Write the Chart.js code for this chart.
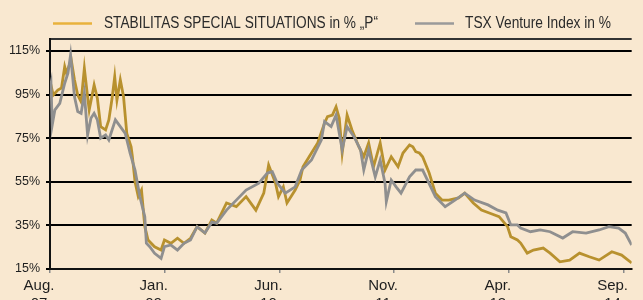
<!DOCTYPE html>
<html>
<head>
<meta charset="utf-8">
<script src="https://cdn.jsdelivr.net/npm/chart.js@4/dist/chart.umd.min.js"></script>
<style>
  body { margin: 0; background: #F9E8D0; }
  #wrap { width: 643px; height: 300px; position: relative; }
</style>
</head>
<body>
<div id="wrap"><canvas id="fundChart"></canvas></div>
<script>
// months since Aug. 2007, values in %
const stabMonths = [0,0.25,0.48,1.16,1.7,2.18,2.43,3.15,3.63,4.11,
  4.61,5.09,5.57,5.81,6.54,7.02,7.51,8.24,8.72,9.2,
  9.59,9.92,10.42,10.9,11.38,12.02,12.21,12.6,13.08,13.56,
  14.05,14.53,15.5,16.46,16.96,17.92,18.89,19.86,20.82,21.8,
  22.96,23.98,24.7,26.16,27.61,29.06,30.51,31.68,32.4,33.42,
  33.86,34.58,35.12,36.33,37.05,37.49,38.75,39.67,40.69,41.12,
  41.85,42.39,42.87,43.3,44.03,44.75,45.77,46.5,47.22,47.95,
  48.93,49.65,50.57,51.58,52.31,53.28,53.77,54.2,54.74,55.22,
  56.19,57.11,58.12,59.1,60.55,61.46,62.73,63.94,65.1,66.55,
  67.81,68.29,69.27,69.75,70.72,71.64,73.09,74.11,75.56,77.01,
  78.47,79.92,81.37,83.26,84.71,86.2];
const stabValues = [96,97.9,94.8,97.1,98,107.8,104.9,110.9,101.7,94.8,
  91.7,107,94,88,99.4,93.3,80.3,78.8,83.4,93.3,
  103.2,92.5,101.7,94,77.2,71.1,66.5,55,48.2,51.2,
  34.4,28.3,25.2,23.7,28.3,26.8,29.1,26.8,29.1,34.4,
  31.5,37.5,36,45.3,43.6,48.2,42,49.8,62.7,54.4,
  48.2,52.7,45.3,51.2,55.8,61.9,68.2,72.8,82,84.9,
  85.6,89.4,84.1,68.2,85.6,78.8,71.1,66.5,72.8,61.9,
  72.8,60.4,66.5,61.9,68.2,71.9,71.1,68.8,68.2,66.5,
  59,49.8,46.6,46.6,47.6,49.8,45.3,42,40.7,39,
  34.4,29.8,28.3,26.9,22.3,23.7,24.6,22.3,18.3,19.1,
  22.3,20.6,19.1,22.9,21.4,17.8];

const tsxMonths = [0,0.15,0.33,0.73,1.45,2.18,2.66,3.05,3.63,4.11,
  4.61,5.09,5.57,6.06,6.54,7.02,7.51,8.24,8.72,9.69,
  10.42,11.15,11.87,12.6,13.32,14.05,14.28,14.78,15.5,16.46,
  16.96,17.92,18.89,19.86,20.82,21.8,22.96,23.98,24.7,26.16,
  27.61,29.06,30.95,32.21,32.94,33.67,34.87,36.33,37.3,38.75,
  40.21,40.69,41.66,42.39,43.3,44.03,45.05,46.02,46.5,47.22,
  48.2,48.93,49.65,49.84,50.57,51.29,52.02,53.28,54.2,55.22,
  55.94,57.11,58.56,60.01,61.46,62.92,64.91,66.36,67.57,68.29,
  69.27,69.75,71.2,72.65,74.11,75.99,77.45,79.44,81.37,82.82,
  84.27,85.25,86.2];
const tsxValues = [98,100.2,81,88,91,100.2,104.8,113.2,94,87.2,
  86.4,95.6,76.5,84.1,86.4,83.4,75,76.5,74.2,83.4,
  80.3,77.2,68.1,60.4,48.2,39,26.8,25.2,22.2,19.9,
  25.2,26,23.7,26.8,28.3,34.4,31.5,36.5,36,42,
  46.6,51.2,54.4,59,59.6,54.4,49.8,52.7,60.4,65,
  74.2,82.6,80.3,85.6,69.6,80.3,75.7,69.6,60.4,69.6,
  57.3,65,54.4,45.9,55.8,52.7,49.8,57.3,60.4,60.4,
  55.8,48.2,43.6,46.6,49.8,46.6,44.4,42,40.7,35.2,
  35.2,33.8,32.1,32.9,32.1,29.2,32.1,31.5,32.9,34.4,
  33.8,31.5,26];

const xTickMonths = [0, 17, 34, 51, 68, 85];
const xTickLabels = [['Aug.', '07'], ['Jan.', '09'], ['Jun.', '10'], ['Nov.', '11'], ['Apr.', '13'], ['Sep.', '14']];
const yTicks = [15, 35, 55, 75, 95, 115];
const yTop = 120.5;

const seriesNames = ['STABILITAS SPECIAL SITUATIONS in % \u201EP\u201C', 'TSX Venture Index in %'];

function toPoints(xs, ys) {
    return xs.map((x, i) => ({ x: x, y: ys[i] }));
}

// condensed text: squeeze a normal font to the width the original uses
function narrowText(ctx, text, x, y, width) {
    const w = ctx.measureText(text).width;
    ctx.save();
    ctx.translate(x, y);
    ctx.scale(Math.min(1, width / w), 1);
    ctx.fillText(text, 0, 0);
    ctx.restore();
}

// legend drawn by hand so it sits where the original has it
const topLegend = {
    id: 'topLegend',
    afterDraw(chart) {
        const ctx = chart.ctx;
        ctx.save();
        ctx.lineWidth = 2.5;
        ctx.strokeStyle = '#E8B23C';
        ctx.beginPath(); ctx.moveTo(53, 23.5); ctx.lineTo(92, 23.5); ctx.stroke();
        ctx.strokeStyle = '#9A9A9A';
        ctx.beginPath(); ctx.moveTo(415, 23.5); ctx.lineTo(454, 23.5); ctx.stroke();
        ctx.fillStyle = '#2B2B2B';
        ctx.font = '16px "Liberation Sans", Arial, sans-serif';
        ctx.textBaseline = 'middle';
        narrowText(ctx, seriesNames[0], 104, 24, 274);
        narrowText(ctx, seriesNames[1], 465, 24, 146);
        ctx.restore();
    }
};

const ctx = document.getElementById('fundChart').getContext('2d');
const fundChart = new Chart(ctx, {
    type: 'line',
    data: {
        datasets: [{
            label: seriesNames[1],
            data: toPoints(tsxMonths, tsxValues),
            borderColor: '#8F8F8F',
            borderWidth: 2.8,
            pointRadius: 0,
            order: 0
        }, {
            label: seriesNames[0],
            data: toPoints(stabMonths, stabValues),
            borderColor: '#B8912E',
            borderWidth: 2.8,
            pointRadius: 0,
            order: 1
        }]
    },
    options: {
        responsive: true,
        maintainAspectRatio: false,
        animation: false,
        layout: { padding: { top: 39, left: 0, right: 0, bottom: 0 }, autoPadding: false },
        plugins: {
            legend: { display: false },
            tooltip: { enabled: false }
        },
        scales: {
            x: {
                type: 'linear',
                min: 0,
                max: 86.2,
                afterBuildTicks: scale => { scale.ticks = xTickMonths.map(v => ({ value: v })); },
                afterFit: scale => { scale.height = 31; },
                ticks: {
                    autoSkip: false,
                    maxRotation: 0,
                    padding: 4,
                    labelOffset: -11,
                    color: '#1E1E1E',
                    font: { family: '"Liberation Sans", Arial, sans-serif', size: 15 },
                    callback: (v, i) => xTickLabels[i]
                },
                grid: { drawOnChartArea: false, tickLength: 4, color: '#8A8A8A', lineWidth: 1.5 },
                border: { color: '#111', width: 2 }
            },
            y: {
                min: 15,
                max: yTop,
                afterBuildTicks: scale => { scale.ticks = yTicks.concat([yTop]).map(v => ({ value: v })); },
                afterFit: scale => { scale.width = 50; },
                ticks: {
                    padding: 6,
                    color: '#1E1E1E',
                    font: { family: '"Liberation Sans", Arial, sans-serif', size: 12.5 },
                    callback: v => (v === yTop ? '' : v + '%')
                },
                grid: {
                    color: ctx => (ctx.tick && ctx.tick.value === yTop ? '#333' : '#000'),
                    tickColor: ctx => (ctx.tick && ctx.tick.value === yTop ? 'rgba(0,0,0,0)' : '#000'),
                    lineWidth: 2,
                    tickLength: 4
                },
                border: { color: '#111', width: 2 }
            }
        }
    },
    plugins: [topLegend]
});
</script>
</body>
</html>
